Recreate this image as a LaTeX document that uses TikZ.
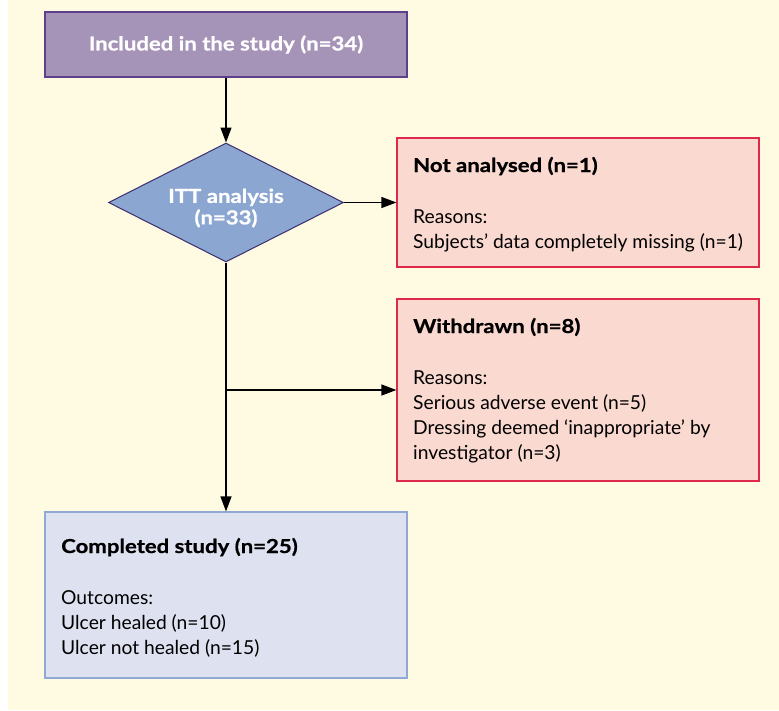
\documentclass[tikz,border=0pt]{standalone}
\usepackage{fontspec}
\setmainfont{Lato}[BoldFeatures={FakeStretch=1.15,FakeBold=0.8}]
\usetikzlibrary{shapes.geometric,arrows.meta}
\definecolor{bgyellow}{RGB}{254,251,226}
\definecolor{purplefill}{RGB}{165,147,184}
\definecolor{purpleline}{RGB}{94,63,138}
\definecolor{bluefill}{RGB}{139,166,209}
\definecolor{blueline}{RGB}{60,46,110}
\definecolor{redfill}{RGB}{250,217,208}
\definecolor{redline}{RGB}{224,41,74}
\definecolor{greyfill}{RGB}{222,225,240}
\definecolor{greyline}{RGB}{143,168,214}
\tikzset{
  boxbase/.style={rectangle, inner sep=0pt, line width=1.2pt},
  startbox/.style={boxbase, fill=purplefill, draw=purpleline, text=white,
     font=\fontsize{19.25}{22}\selectfont\bfseries},
  decisionbox/.style={diamond, inner sep=0pt, fill=bluefill, draw=blueline, line width=1pt},
  decisiontext/.style={inner sep=0pt, text=white, align=center,
     font=\fontsize{19.25}{21.5}\selectfont\bfseries},
  exclbox/.style={boxbase, fill=redfill, draw=redline},
  endbox/.style={boxbase, fill=greyfill, draw=greyline},
  boxtext/.style={anchor=base west, inner sep=0pt, font=\fontsize{19.25}{25}\selectfont},
  flow/.style={line width=1.3pt, -{Triangle[length=15pt,width=11pt]}}
}
\begin{document}
\begin{tikzpicture}[x=1pt,y=-1pt]
\useasboundingbox (0,0) rectangle (779,710);
\fill[bgyellow] (8,0) rectangle (779,710);

\node[startbox, minimum width=362pt, minimum height=65pt] (inc) at (226,44.5) {Included in the study (n=34)};
\node[decisionbox, minimum width=235pt, minimum height=119pt] (itt) at (226,202.5) {};
\node[decisiontext] (itttext) at (226,208) {ITT analysis\\(n=33)};
\node[exclbox, minimum width=362pt, minimum height=129pt] (notan) at (578,202.5) {};
\node[exclbox, minimum width=362pt, minimum height=182pt] (withd) at (578,390) {};
\node[endbox, minimum width=362pt, minimum height=166pt] (compl) at (226,595) {};

\node[boxtext] (notantext) at (413,172) {\begin{tabular}[t]{@{}l@{}}\textbf{Not analysed (n=1)}\\[26pt]
Reasons:\\
Subjects’ data completely missing (n=1)\end{tabular}};
\node[boxtext] (withdtext) at (413,333) {\begin{tabular}[t]{@{}l@{}}\textbf{Withdrawn (n=8)}\\[26pt]
Reasons:\\
Serious adverse event (n=5)\\
Dressing deemed ‘inappropriate’ by\\
investigator (n=3)\end{tabular}};
\node[boxtext] (compltext) at (61,553) {\begin{tabular}[t]{@{}l@{}}\textbf{Completed study (n=25)}\\[26pt]
Outcomes:\\
Ulcer healed (n=10)\\
Ulcer not healed (n=15)\end{tabular}};

\coordinate (branch) at (226,390);
\draw[flow] (inc) -- (itt);
\draw[flow] (itt.east) -- (notan.west);
\draw[flow] (itt.south) -- (compl.north);
\draw[flow] (branch) -- (withd.west);
\end{tikzpicture}
\end{document}
